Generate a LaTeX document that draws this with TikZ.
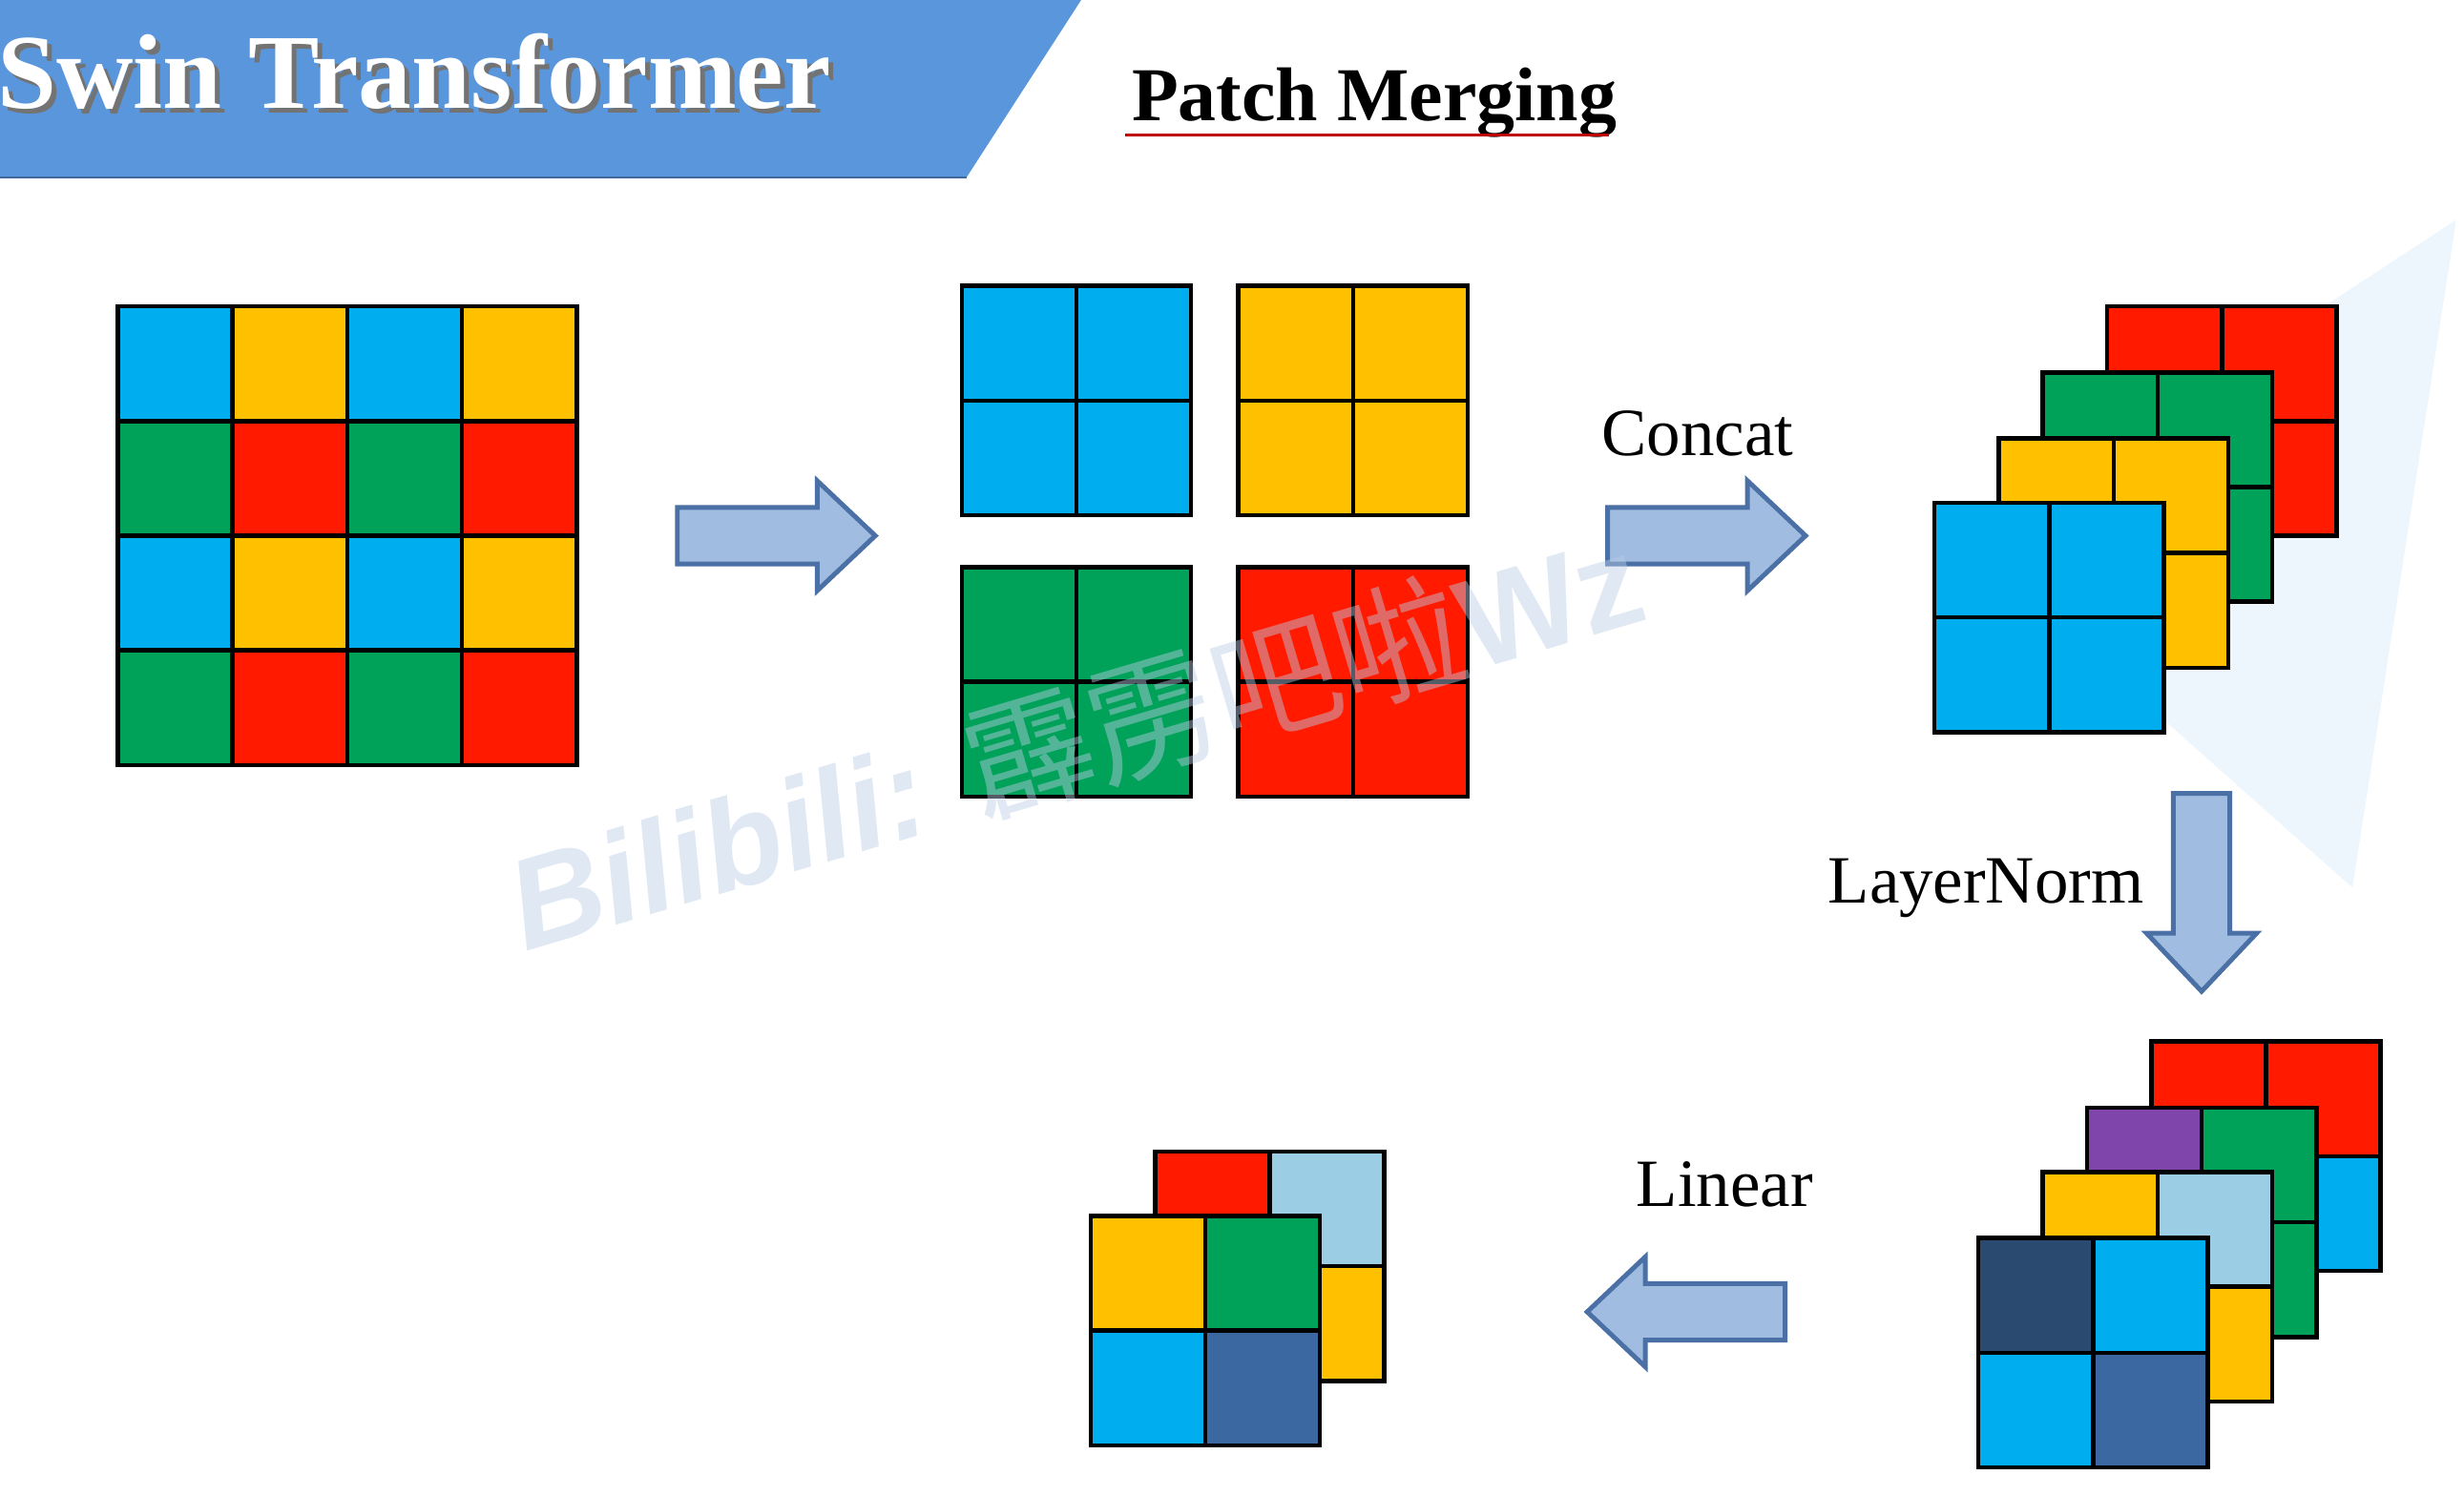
\documentclass[tikz,border=0pt]{standalone}
\usepackage{fontspec}
\setmainfont{Liberation Serif}
\newfontfamily\wmsans{Liberation Sans}
\newfontfamily\cjk{Noto Sans CJK SC}
\definecolor{cblue}{HTML}{00AEEF}
\definecolor{cyellow}{HTML}{FFC000}
\definecolor{cgreen}{HTML}{00A259}
\definecolor{cred}{HTML}{FF1A00}
\definecolor{cnavy}{HTML}{2B4A6F}
\definecolor{csteel}{HTML}{3B68A0}
\definecolor{clight}{HTML}{9BCEE4}
\definecolor{cpurple}{HTML}{7F45AA}
\definecolor{hdrblue}{HTML}{5A96DC}
\definecolor{arrfill}{HTML}{A0BCE0}
\definecolor{arredge}{HTML}{4A70A6}
\definecolor{wmcol}{HTML}{B9CCE6}
\definecolor{tricol}{HTML}{EDF6FC}
\newcommand{\pmplane}[6]{%
  \fill[#3] (#1,#2) rectangle ++(73,73);
  \fill[#4] (#1+73,#2) rectangle ++(73,73);
  \fill[#5] (#1,#2+73) rectangle ++(73,73);
  \fill[#6] (#1+73,#2+73) rectangle ++(73,73);
  \draw[gridline] (#1,#2) rectangle ++(146,146);
  \draw[gridline] (#1+73,#2) -- ++(0,146);
  \draw[gridline] (#1,#2+73) -- ++(146,0);
}
\tikzset{
  gridline/.style={black, line width=0.055cm},
  arrowbody/.style={fill=arrfill, draw=arredge, line width=0.06cm, line join=miter},
  barrow/.pic={\path[arrowbody] (0,-18) -- (89,-18) -- (89,-35) -- (126,0) -- (89,35) -- (89,18) -- (0,18) -- cycle;},
  lbl/.style={font=\fontsize{24.5}{28}\selectfont, inner sep=0pt, anchor=base west}
}
\begin{document}
\begin{tikzpicture}[x=0.02cm, y=-0.02cm]
\useasboundingbox (0,0) rectangle (1568,952);
\fill[white] (0,0) rectangle (1568,952);
% header
\fill[hdrblue] (0,0) -- (688,0) -- (615,113) -- (0,113) -- cycle;
\draw[hdrblue!70!black, line width=0.03cm] (0,113) -- (615,113);
\node[font=\bfseries\fontsize{38.5}{40}\selectfont, text=black!55, inner sep=0pt, anchor=base west] at (1,72) {Swin Transformer};
\node (title) [font=\bfseries\fontsize{38.5}{40}\selectfont, text=white, inner sep=0pt, anchor=base west] at (-2,69) {Swin Transformer};
\node (pm) [font=\bfseries\fontsize{27.6}{32}\selectfont, inner sep=0pt, anchor=base west] at (720,77) {Patch Merging};
\draw[red!75!black, line width=0.035cm] (716,86) -- (1024,86);
% light triangle
\fill[tricol] (1563,140) -- (1497,565) -- (1250,345) -- cycle;
% 4x4 grid
\foreach \r/\ca/\cb in {0/cblue/cyellow,1/cgreen/cred,2/cblue/cyellow,3/cgreen/cred}{
  \foreach \c in {0,2}{
    \fill[\ca] (75+73*\c,195+73*\r) rectangle ++(73,73);
    \fill[\cb] (75+73*\c+73,195+73*\r) rectangle ++(73,73);
  }
}
\foreach \i in {1,2,3}{
  \draw[gridline] (75+73*\i,195) -- ++(0,292);
  \draw[gridline] (75,195+73*\i) -- ++(292,0);
}
\draw[gridline] (75,195) rectangle (367,487);
\node (in) at (221,341) {};
% arrow 1
\pic at (431,341) {barrow};
% split patches
\pmplane{612}{182}{cblue}{cblue}{cblue}{cblue}
\pmplane{788}{182}{cyellow}{cyellow}{cyellow}{cyellow}
\pmplane{612}{361}{cgreen}{cgreen}{cgreen}{cgreen}
\pmplane{788}{361}{cred}{cred}{cred}{cred}
% concat
\node (concat) [lbl] at (1019,290) {Concat};
\pic at (1023,341) {barrow};
\pmplane{1341}{195}{cred}{cred}{cred}{cred}
\pmplane{1300}{237}{cgreen}{cgreen}{cgreen}{cgreen}
\pmplane{1272}{279}{cyellow}{cyellow}{cyellow}{cyellow}
\pmplane{1231}{320}{cblue}{cblue}{cblue}{cblue}
% layernorm
\node (ln) [lbl] at (1163,575) {LayerNorm};
\pic[rotate=-90] at (1401,505) {barrow};
\pmplane{1369}{663}{cred}{cred}{cblue}{cblue}
\pmplane{1328}{705}{cpurple}{cgreen}{cgreen}{cgreen}
\pmplane{1300}{746}{cyellow}{clight}{cyellow}{cyellow}
\pmplane{1259}{788}{cnavy}{cblue}{cblue}{csteel}
% linear
\node (lin) [lbl] at (1041,768) {Linear};
\pic[rotate=180] at (1136,835) {barrow};
\pmplane{735}{733}{cred}{clight}{cyellow}{cyellow}
\pmplane{694}{774}{cyellow}{cgreen}{cblue}{csteel}
% watermark
\node (wm) [text=wmcol, opacity=0.45, inner sep=0pt, anchor=base west, rotate=16.5] at (334,606)
  {\wmsans\bfseries\itshape\fontsize{46.5}{50}\selectfont Bilibili: \cjk\mdseries\upshape 霹雳吧啦\wmsans\bfseries Wz};
\end{tikzpicture}
\end{document}
